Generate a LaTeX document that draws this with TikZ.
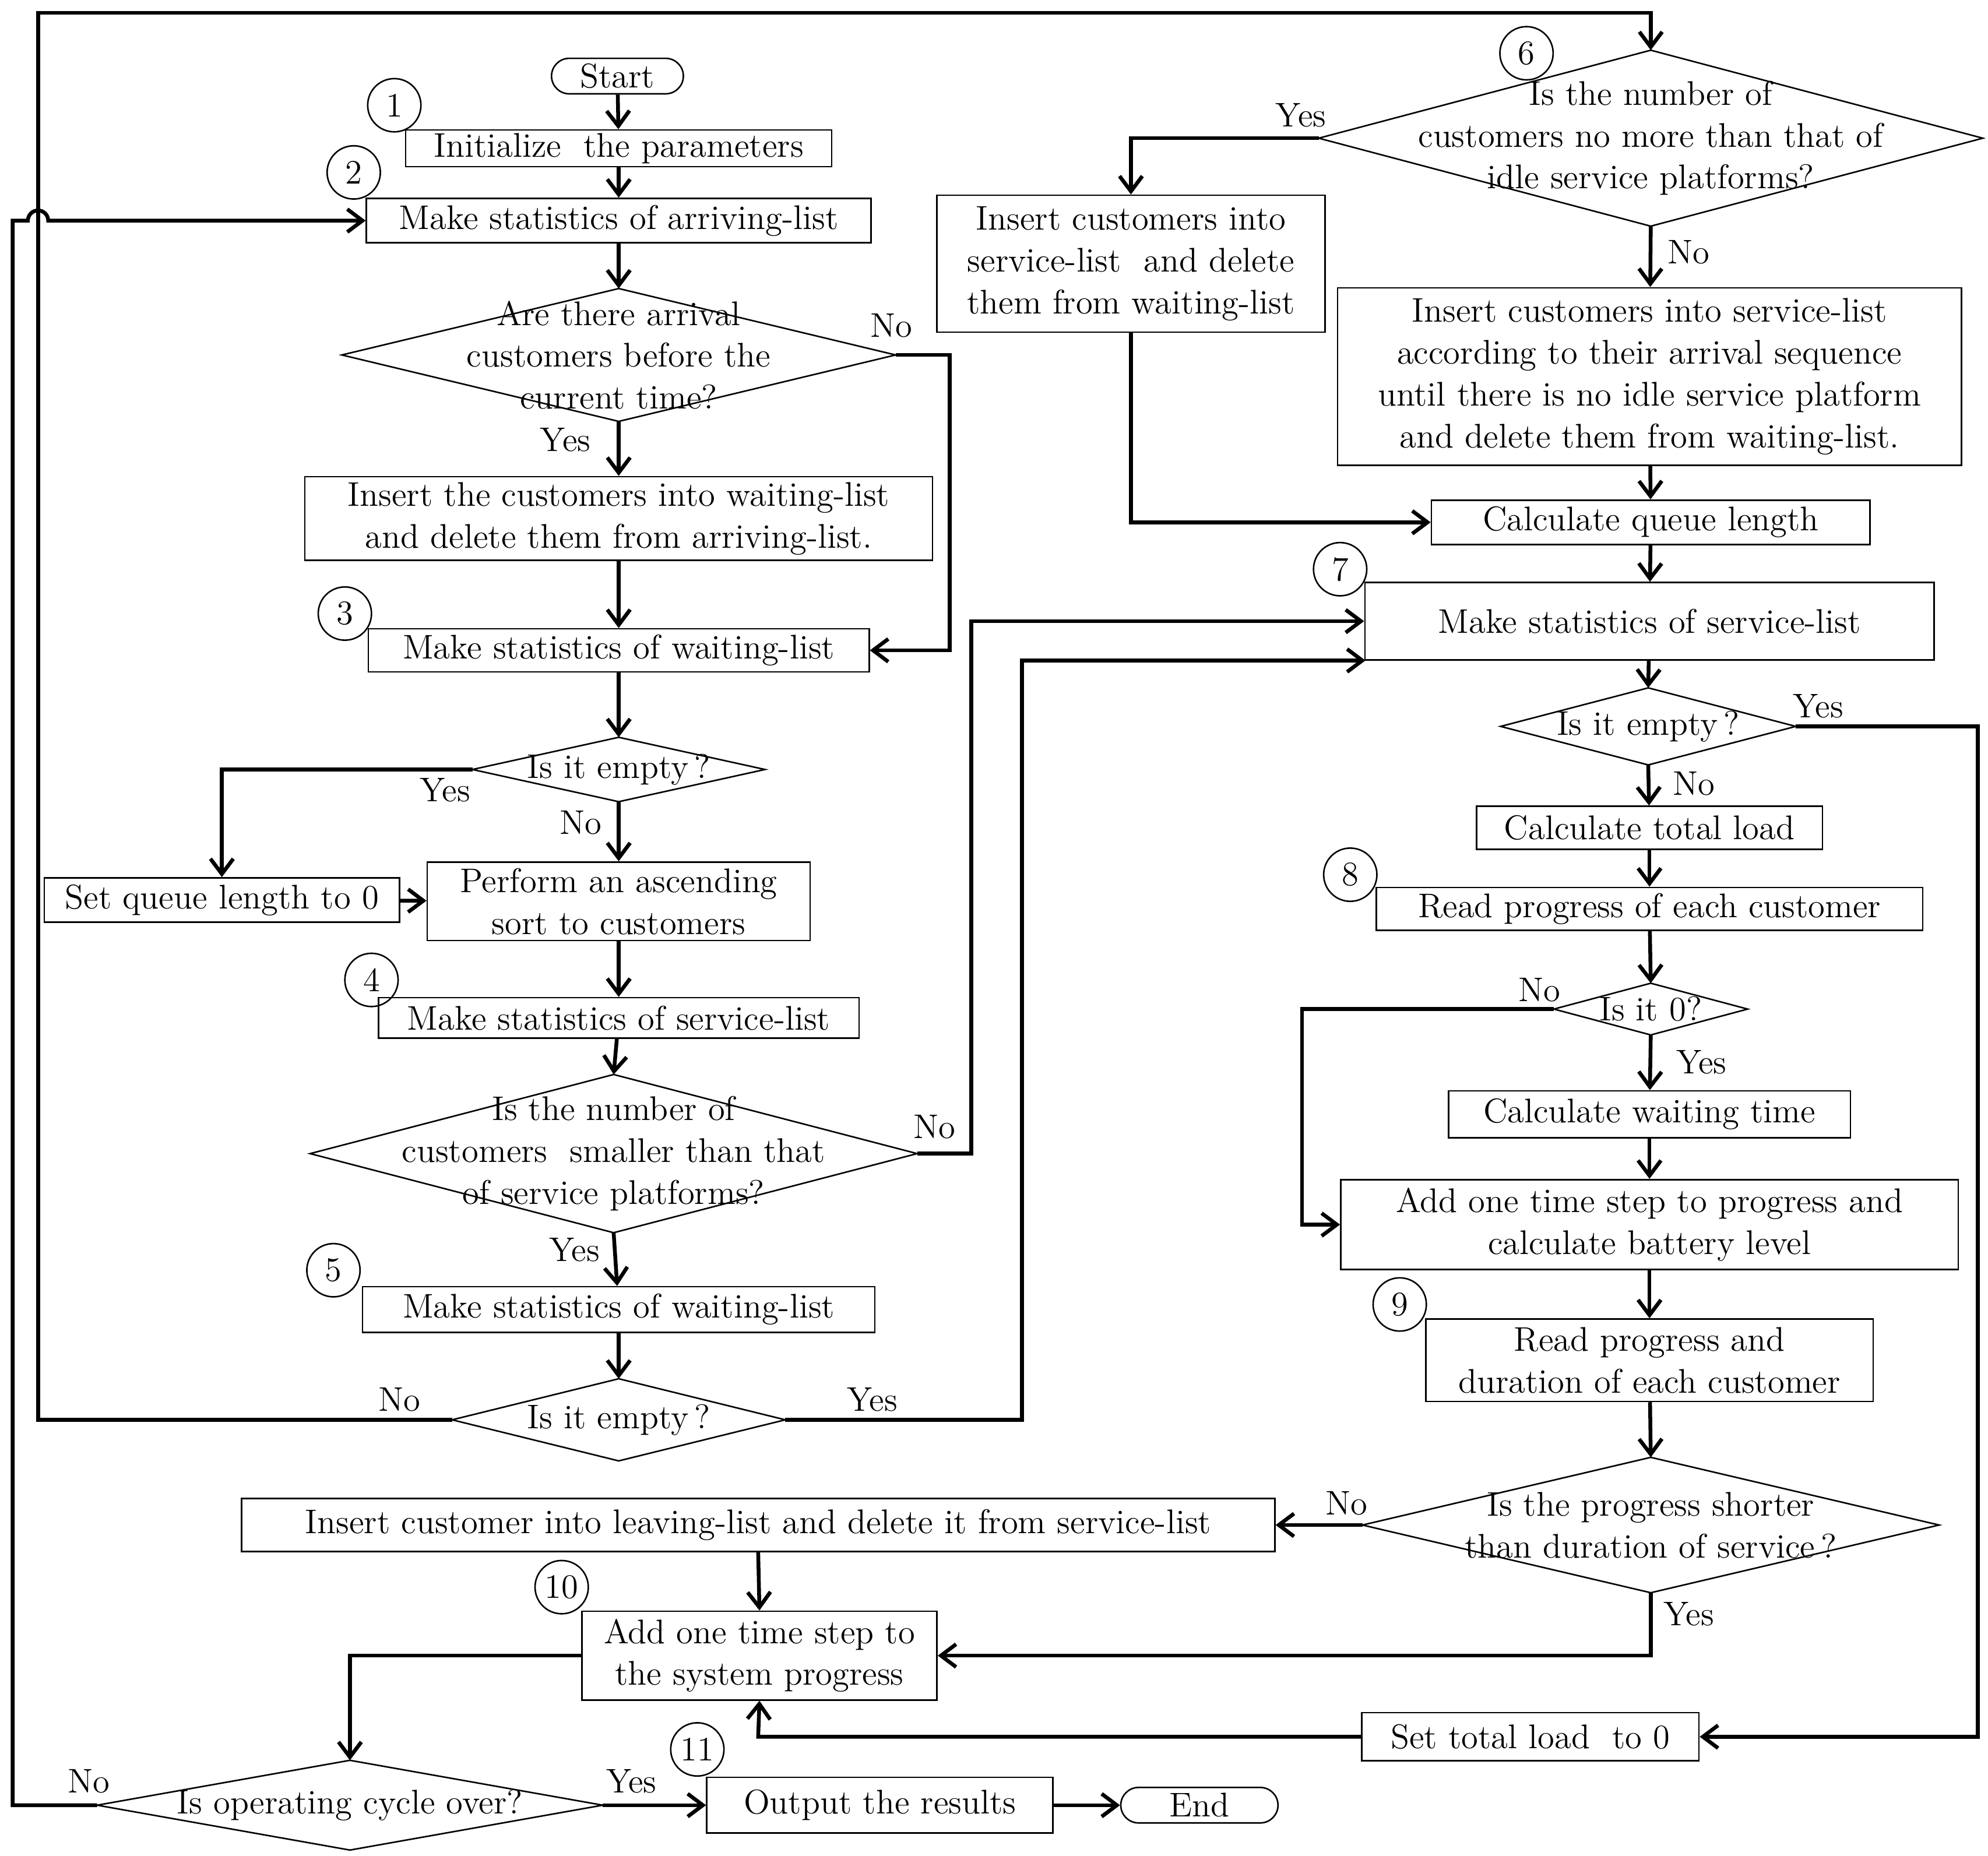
\documentclass[tikz,border=0pt]{standalone}
\usetikzlibrary{shapes.geometric,shapes.misc,arrows.meta}
\begin{document}
\begin{tikzpicture}[x=0.5pt,y=-0.5pt,
 font=\fontsize{13.5}{16.5}\selectfont,
 box/.style={draw,line width=0.6pt,inner sep=0,align=center},
 txt/.style={align=center,inner sep=0},
 num/.style={draw,circle,line width=0.6pt,minimum size=21pt,inner sep=0},
 term/.style={draw,rounded rectangle,line width=0.6pt,inner sep=0},
 ar/.style={line width=1.5pt,-{Straight Barb[length=6pt,width=9pt]}},
 lb/.style={inner sep=0}]
\useasboundingbox (0,0) rectangle (1568,1464);
\newcommand{\bx}[6]{\node[box,minimum width=#4*0.5pt,minimum height=#5*0.5pt] (#1) at (#2,#3) {#6};}
\newcommand{\dm}[6]{\node[inner sep=0,minimum width=#4*0.5pt,minimum height=#5*0.5pt] (#1) at (#2,#3) {};
 \draw[line width=0.6pt] (#1.north)--(#1.east)--(#1.south)--(#1.west)--cycle;
 \node[txt] (#1t) at (#2,#3) {#6};}
% left column
\node[term,minimum width=52pt,minimum height=14pt] (start) at (487,60) {Start};
\node[num] (c1) at (311,83) {1};
\bx{init}{488}{117}{336}{29}{Initialize\ \ the parameters}
\node[num] (c2) at (279,136) {2};
\bx{arr}{488}{174}{398}{35}{Make statistics of arriving-list}
\dm{d1}{488}{280}{436}{104}{Are there arrival\\customers before the\\current time?}
\bx{ins1}{488}{409}{495}{66}{Insert the customers into waiting-list\\and delete them from arriving-list.}
\node[num] (c3) at (272,484) {3};
\bx{wait1}{488}{513}{395}{34}{Make statistics of waiting-list}
\dm{d2}{488}{607}{230}{50}{Is it empty\,?}
\bx{setq}{175}{710}{280}{35}{Set queue length to 0}
\bx{sort}{488}{711}{302}{62}{Perform an ascending\\sort to customers}
\node[num] (c4) at (293,773) {4};
\bx{serv1}{488}{803}{379}{32}{Make statistics of service-list}
\dm{d3}{484}{910}{478}{124}{Is the number of\\customers\ \ smaller than that\\of service platforms?}
\node[num] (c5) at (263,1002) {5};
\bx{wait2}{488}{1033}{404}{36}{Make statistics of waiting-list}
\dm{d4}{488}{1120}{262}{64}{Is it empty\,?}
% right column
\node[num] (c6) at (1204,42) {6};
\dm{d5}{1302}{109}{523}{138}{Is the number of\\customers no more than that of\\idle service platforms?}
\bx{insA}{892}{208}{306}{108}{Insert customers into\\service-list\ \ and delete\\them from waiting-list}
\bx{insB}{1301}{297}{492}{140}{Insert customers into service-list\\according to their arrival sequence\\until there is no idle service platform\\and delete them from waiting-list.}
\bx{calcq}{1302}{412}{346}{35}{Calculate queue length}
\node[num] (c7) at (1057,449) {7};
\bx{serv2}{1301}{490}{449}{61}{Make statistics of service-list}
\dm{d6}{1300}{573}{232}{60}{Is it empty\,?}
\bx{tload}{1301}{653}{273}{34}{Calculate total load}
\node[num] (c8) at (1065,690) {8};
\bx{readp}{1301}{717}{431}{34}{Read progress of each customer}
\dm{d7}{1302}{796}{152}{40}{Is it 0?}
\bx{wt}{1301}{879}{317}{37}{Calculate waiting time}
\bx{add}{1301}{966}{487}{71}{Add one time step to progress and\\calculate battery level}
\node[num] (c9) at (1104,1029) {9};
\bx{readpd}{1301}{1073}{353}{65}{Read progress and\\duration of each customer}
\dm{d8}{1302}{1203}{454}{106}{Is the progress shorter\\than duration of service\,?}
\bx{leave}{598}{1203}{815}{42}{Insert customer into leaving-list and delete it from service-list}
\node[num] (c10) at (443,1252) {10};
\bx{sysp}{599}{1306}{280}{70}{Add one time step to\\the system progress}
\bx{settl}{1207}{1370}{266}{38}{Set total load\ \ to 0}
\dm{d9}{276}{1424}{398}{70}{Is operating cycle over?}
\node[num] (c11) at (550,1380) {11};
\bx{out}{694}{1424}{273}{44}{Output the results}
\node[term,minimum width=62pt,minimum height=14pt] (endn) at (946,1424) {End};
% connectors
\draw[ar] (start)--(init);
\draw[ar] (init)--(arr);
\draw[ar] (arr)--(d1.north);
\draw[ar] (d1.south)--(ins1);
\draw[ar] (ins1)--(wait1);
\draw[ar] (d1.east)--(749,280)--(749,513)--(wait1.east);
\draw[ar] (wait1)--(d2.north);
\draw[ar] (d2.west)--(175,607)--(setq.north);
\draw[ar] (d2.south)--(sort);
\draw[ar] (setq)--(sort);
\draw[ar] (sort)--(serv1);
\draw[ar] (serv1)--(d3.north);
\draw[ar] (d3.south)--(wait2);
\draw[ar] (d3.east)--(766,910)--(766,490)--(serv2.west);
\draw[ar] (wait2)--(d4.north);
\draw[ar] (d4.east)--(806,1120)--(806,521)--(1077,521);
\draw[ar] (d4.west)--(30,1120)--(30,10)--(1302,10)--(d5.north);
\draw[ar] (d5.west)--(892,109)--(insA.north);
\draw[ar] (d5.south)--(insB);
\draw[ar] (insA.south)--(892,412)--(calcq.west);
\draw[ar] (insB)--(calcq);
\draw[ar] (calcq)--(serv2);
\draw[ar] (serv2)--(d6.north);
\draw[ar] (d6.east)--(1560,573)--(1560,1370)--(settl.east);
\draw[ar] (d6.south)--(tload);
\draw[ar] (tload)--(readp);
\draw[ar] (readp)--(d7.north);
\draw[ar] (d7.west)--(1027,796)--(1027,966)--(add.west);
\draw[ar] (d7.south)--(wt);
\draw[ar] (wt)--(add);
\draw[ar] (add)--(readpd);
\draw[ar] (readpd)--(d8.north);
\draw[ar] (d8.west)--(leave.east);
\draw[ar] (d8.south)--(1302,1306)--(sysp.east);
\draw[ar] (leave.south)--(sysp.north);
\draw[ar] (settl.west)--(598,1370)--(sysp.south);
\draw[ar] (sysp.west)--(276,1306)--(d9.north);
\draw[ar] (d9.east)--(out.west);
\draw[ar] (out)--(endn);
\draw[ar] (d9.west)--(10,1424)--(10,174)--(22,174) arc[start angle=180,end angle=0,radius=4pt]--(arr.west);
% labels
\node[lb] at (703,257) {No};
\node[lb] at (446,347) {Yes};
\node[lb] at (351,623) {Yes};
\node[lb] at (458,649) {No};
\node[lb] at (737,889) {No};
\node[lb] at (453,986) {Yes};
\node[lb] at (315,1104) {No};
\node[lb] at (688,1104) {Yes};
\node[lb] at (1026,91) {Yes};
\node[lb] at (1332,199) {No};
\node[lb] at (1434,557) {Yes};
\node[lb] at (1336,618) {No};
\node[lb] at (1214,781) {No};
\node[lb] at (1342,838) {Yes};
\node[lb] at (1062,1186) {No};
\node[lb] at (1332,1273) {Yes};
\node[lb] at (70,1405) {No};
\node[lb] at (498,1405) {Yes};
\end{tikzpicture}
\end{document}
